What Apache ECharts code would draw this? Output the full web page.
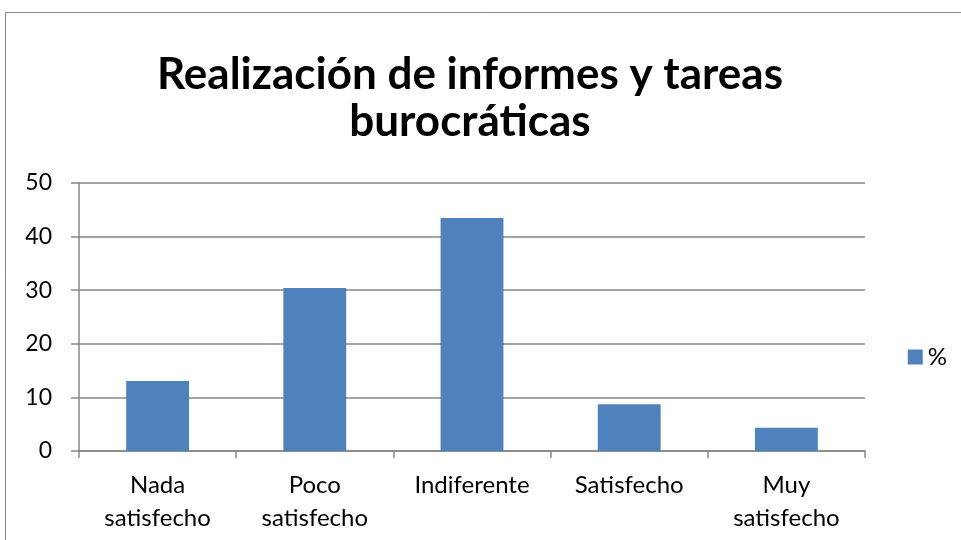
<!DOCTYPE html>
<html><head><meta charset="utf-8">
<script src="https://cdn.jsdelivr.net/npm/echarts@6/dist/echarts.min.js"></script>
<style>html,body{margin:0;padding:0;background:#fff}#c{width:961px;height:540px}</style>
</head><body><div id="c"></div>
<script>
const titleText = 'Realización de informes y tareas\nburocráticas';
const categories = ['Nada\nsatisfecho', 'Poco\nsatisfecho', 'Indiferente', 'Satisfecho', 'Muy\nsatisfecho'];
const seriesName = '%';
const values = [13.04, 30.43, 43.48, 8.70, 4.35];
const yTicks = {min: 0, max: 50, interval: 10};

const chart = echarts.init(document.getElementById('c'), null, {renderer: 'canvas'});
const font = 'Lato, "Open Sans", sans-serif';
chart.setOption({
  animation: false,
  backgroundColor: '#fff',
  graphic: [{type: 'rect', shape: {x: 5.5, y: 12.5, width: 1000, height: 600}, style: {fill: 'none', stroke: '#878787', lineWidth: 1}, silent: true}],
  title: {text: titleText, left: 465, top: 46, textAlign: 'center',
    textStyle: {fontFamily: font, fontWeight: 'bold', fontSize: 44, lineHeight: 47, color: '#000'}},
  legend: {show: true, right: 9, top: 340, itemWidth: 15, itemHeight: 15, icon: 'rect', itemGap: 5,
    textStyle: {fontFamily: font, fontSize: 24, color: '#000'}},
  grid: {left: 79, right: 96, top: 183, bottom: 89, containLabel: false},
  xAxis: {type: 'category', data: categories,
    axisLine: {lineStyle: {color: '#868686', width: 1.5}},
    axisTick: {show: true, length: 7, lineStyle: {color: '#868686', width: 1.5}},
    axisLabel: {fontFamily: font, fontSize: 24, color: '#000', margin: 18, lineHeight: 33}},
  yAxis: {type: 'value', min: yTicks.min, max: yTicks.max, interval: yTicks.interval,
    axisLine: {show: true, lineStyle: {color: '#868686', width: 1.5}},
    axisTick: {show: true, length: 8, lineStyle: {color: '#868686', width: 1.5}},
    splitLine: {lineStyle: {color: '#868686', width: 1.5}},
    axisLabel: {fontFamily: font, fontSize: 23, color: '#000', margin: 27}},
  series: [{name: seriesName, type: 'bar', data: values, barCategoryGap: '60%',
    itemStyle: {color: '#4f81bd'}}]
});
</script></body></html>
